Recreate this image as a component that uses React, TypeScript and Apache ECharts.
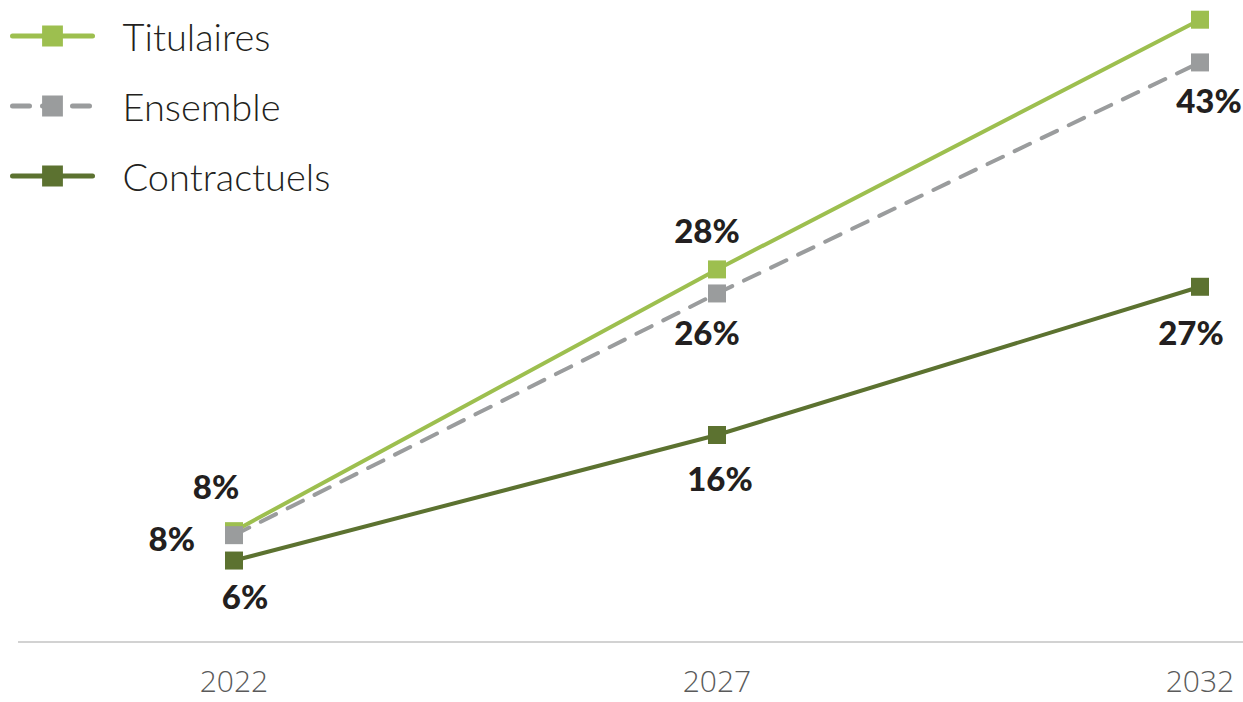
import React, { useEffect, useRef } from "react";
import * as echarts from "echarts";

const years = ["2022", "2027", "2032"];
const titulaires = [8.3, 27.9, 46.6];
const ensemble = [8.0, 26.1, 43.4];
const contractuels = [6.1, 15.5, 26.6];
const seriesNames = ["Titulaires", "Ensemble", "Contractuels"];

const COLORS = ["#9dbf4f", "#9a9c9d", "#5c7230"];
const FONT = "Lato, 'Noto Sans', sans-serif";

type Place = { show: boolean; position?: string; distance?: number; offset?: number[] };
const titPlace: Place[] = [
  { show: true, position: "top", distance: 20, offset: [-18, 0] },
  { show: true, position: "top", distance: 14, offset: [-10, 0] },
  { show: false },
];
const ensPlace: Place[] = [
  { show: true, position: "left", distance: 30, offset: [0, 3] },
  { show: true, position: "bottom", distance: 13, offset: [-10, 0] },
  { show: true, position: "bottom", distance: 12, offset: [9, 0] },
];
const conPlace: Place[] = [
  { show: true, position: "bottom", distance: 10, offset: [11, 0] },
  { show: true, position: "bottom", distance: 17, offset: [3, 0] },
  { show: true, position: "bottom", distance: 20, offset: [-9, 0] },
];

function makeSeries(name: string, values: number[], color: string, places: Place[], dashed: boolean) {
  return {
    name,
    type: "line",
    data: values.map((v, i) => ({ value: v, label: places[i] })),
    symbol: "rect",
    symbolSize: 18,
    showAllSymbol: true,
    itemStyle: { color },
    lineStyle: dashed
      ? { color, width: 4, type: [17, 13], cap: "round" }
      : { color, width: 4, cap: "round" },
    label: {
      show: true,
      formatter: (p: any) => Math.round(p.value) + "%",
      fontFamily: FONT,
      fontWeight: 900,
      fontSize: 33,
      color: "#231f20",
    },
  };
}

export default function App() {
  const ref = useRef<HTMLDivElement>(null);
  useEffect(() => {
    if (!ref.current) return;
    const chart = echarts.init(ref.current, undefined, { renderer: "svg" });
    chart.setOption({
      animation: false,
      backgroundColor: "#ffffff",
      grid: { left: 234, right: 43, top: 1, bottom: 60, containLabel: false },
      legend: {
        data: seriesNames,
        orient: "vertical",
        left: 5,
        top: 12,
        itemWidth: 80,
        itemHeight: 26,
        itemGap: 32,
        lineStyle: { width: 5, cap: "round" },
        textStyle: {
          fontFamily: FONT,
          fontWeight: 300,
          fontSize: 38,
          lineHeight: 37,
          color: "#231f20",
          padding: [0, 0, 0, 25],
        },
      },
      xAxis: {
        type: "category",
        data: years,
        boundaryGap: false,
        axisLine: { show: false },
        axisTick: { show: false },
        splitLine: { show: false },
        axisLabel: {
          fontFamily: "'Open Sans', sans-serif",
          fontWeight: 300,
          fontSize: 30,
          lineHeight: 28,
          color: "#5a5a5a",
          margin: 24,
        },
      },
      yAxis: { type: "value", min: 0, max: 48, show: false },
      graphic: [
        {
          type: "line",
          shape: { x1: 18, y1: 642, x2: 1243, y2: 642 },
          style: { stroke: "#d2d2d2", lineWidth: 2 },
          silent: true,
        },
      ],
      series: [
        makeSeries(seriesNames[0], titulaires, COLORS[0], titPlace, false),
        makeSeries(seriesNames[1], ensemble, COLORS[1], ensPlace, true),
        makeSeries(seriesNames[2], contractuels, COLORS[2], conPlace, false),
      ],
    });
    return () => chart.dispose();
  }, []);
  return (
    <div
      ref={ref}
      style={{ position: "absolute", left: 0, top: 0, width: 1243, height: 702 }}
    />
  );
}
